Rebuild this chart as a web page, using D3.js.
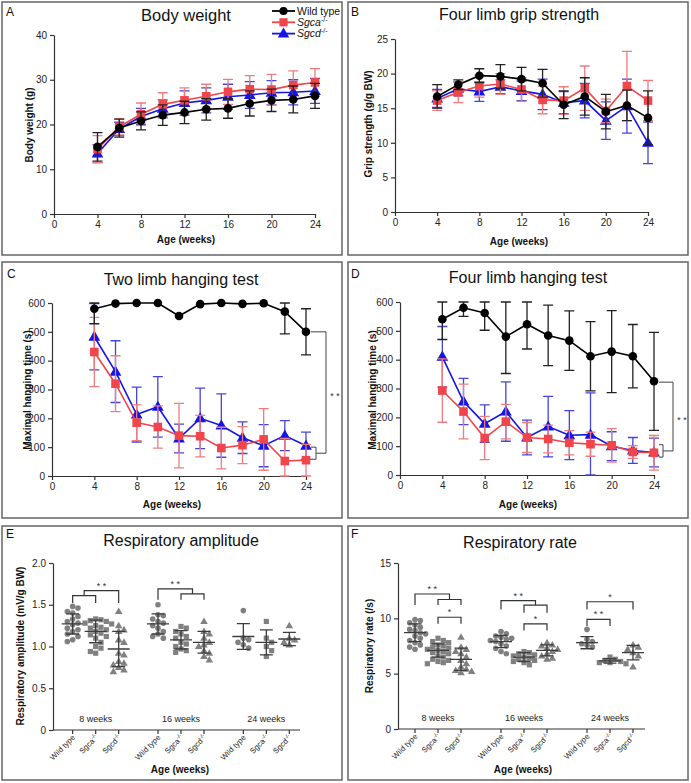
<!DOCTYPE html>
<html><head><meta charset="utf-8">
<script src="https://cdn.jsdelivr.net/npm/d3@7"></script>
<style>
body{margin:0;background:#fff}
svg{display:block}
text{font-family:"Liberation Sans",Arial,Helvetica,sans-serif}
</style>
</head><body>
<svg id="c" width="691" height="783"></svg>
<script>
// ---------- DATA ----------
const weeks = [4,6,8,10,12,14,16,18,20,22,24];
const weekTicks = [0,4,8,12,16,20,24];
const seriesNames = ["Wild type","Sgca","Sgcd"];

// A: Body weight (g)
const bwWT = [15.0,19.2,20.8,22.1,22.7,23.4,23.6,24.7,25.4,25.6,26.4];
const bwWTsd = [3.2,2.0,2.0,2.3,2.5,2.4,2.2,2.8,2.5,3.0,2.8];
const bwSgca = [14.5,19.5,22.3,24.5,25.4,26.3,27.3,27.9,27.8,28.8,29.4];
const bwSgcaSd = [3.0,1.8,2.5,2.6,2.8,2.7,2.8,3.0,3.4,3.2,3.1];
const bwSgcd = [13.5,19.0,21.8,23.5,24.8,25.4,26.2,26.6,27.1,27.2,27.5];
const bwSgcdSd = [2.0,1.5,1.8,2.0,2.7,2.8,2.8,3.0,2.7,2.8,2.8];
const bwTicks = [0,10,20,30,40];

// B: Grip strength (g/g BW)
const gripWT = [16.7,18.4,19.7,19.6,19.2,18.6,15.5,16.7,14.5,15.4,13.6];
const gripWTsd = [1.7,0.7,1.0,1.7,1.7,2.0,2.0,2.7,2.5,2.2,3.9];
const gripSgca = [16.1,17.3,18.2,18.5,17.7,16.2,16.1,17.9,14.6,18.2,16.1];
const gripSgcaSd = [1.4,1.5,1.6,1.5,1.7,2.0,2.0,3.2,1.7,5.0,2.9];
const gripSgcd = [16.4,17.8,17.4,18.1,17.5,17.0,15.8,16.1,13.2,15.3,10.0];
const gripSgcdSd = [1.3,1.0,1.4,1.0,1.4,2.2,1.6,2.5,2.7,3.9,3.0];
const gripTicks = [0,5,10,15,20,25];

// C: Two limb hanging (s)
const twoWT = [580,598,600,600,555,596,600,597,599,570,500];
const twoWTsd = [52,0,0,0,0,0,0,0,0,77,80];
const twoSgca = [430,320,185,170,140,138,97,107,127,52,55];
const twoSgcaSd = [120,97,62,73,112,72,72,64,107,78,55];
const twoSgcd = [483,362,213,240,130,200,175,133,105,140,105];
const twoSgcdSd = [115,107,95,105,50,105,110,55,73,52,47];

// D: Four limb hanging (s)
const fourWT = [540,580,562,480,523,484,466,412,428,412,325];
const fourWTsd = [70,30,60,128,86,105,103,120,142,110,170];
const fourSgca = [293,220,128,185,130,125,112,107,103,80,77];
const fourSgcaSd = [110,95,75,60,52,48,42,42,58,22,60];
const fourSgcd = [410,255,178,220,130,168,138,140,100,85,78];
const fourSgcdSd = [105,80,65,103,60,105,85,145,50,45,50];
const hangTicks = [0,100,200,300,400,500,600];

// E / F groups
const ageGroups = ["8 weeks","16 weeks","24 weeks"];
const genotypes = ["Wild type","Sgca","Sgcd"];

// E: Respiratory amplitude (mV/g BW)
const amp8WT = [1.48,1.46,1.42,1.40,1.36,1.33,1.30,1.28,1.26,1.22,1.20,1.18,1.15,1.12,1.08,1.06];
const amp8Sgca = [1.33,1.32,1.31,1.30,1.28,1.27,1.25,1.23,1.22,1.20,1.18,1.16,1.14,1.12,1.10,1.05,1.00,0.98,0.94,0.92];
const amp8Sgcd = [1.42,1.25,1.20,1.18,1.08,1.05,0.92,0.90,0.82,0.80,0.78,0.75,0.72,0.70];
const amp16WT = [1.50,1.38,1.37,1.33,1.30,1.28,1.25,1.22,1.18,1.15,1.12,1.10];
const amp16Sgca = [1.24,1.22,1.18,1.15,1.12,1.10,1.05,1.03,1.00,0.97,0.95,0.93];
const amp16Sgcd = [1.30,1.18,1.15,1.10,1.05,1.02,1.00,0.95,0.92,0.88,0.84];
const amp24WT = [1.43,1.10,1.08,1.05,1.02,0.98];
const amp24Sgca = [1.30,1.10,1.05,1.00,0.95,0.88];
const amp24Sgcd = [1.25,1.10,1.08,1.05,1.02];
const ampMean = [1.27,1.18,0.97,1.27,1.08,1.05,1.12,1.05,1.09];
const ampSd = [0.12,0.135,0.21,0.12,0.11,0.13,0.155,0.15,0.08];
const ampTicks = [0,0.5,1.0,1.5,2.0];

// F: Respiratory rate (/s)
const rate8WT = [9.9,9.8,9.6,9.4,9.2,9.0,8.9,8.7,8.6,8.4,8.2,8.0,7.8,7.6,7.4,7.2];
const rate8Sgca = [8.2,8.0,7.9,7.8,7.6,7.5,7.4,7.3,7.2,7.1,7.0,6.9,6.8,6.6,6.5,6.3,6.2,6.1,6.0,5.9];
const rate8Sgcd = [8.3,7.4,7.2,7.0,6.8,6.5,6.2,5.9,5.6,5.4,5.3,5.2,5.1];
const rate16WT = [8.8,8.6,8.4,8.3,8.2,8.1,8.0,7.9,7.7,7.5,7.3,7.0,6.8];
const rate16Sgca = [7.0,6.9,6.8,6.7,6.6,6.5,6.4,6.3,6.2,6.1,6.0,5.8];
const rate16Sgcd = [7.8,7.6,7.5,7.3,7.2,7.0,6.8,6.6,6.4,6.3];
const rate24WT = [9.0,8.1,7.9,7.7,7.6,7.4];
const rate24Sgca = [6.5,6.3,6.2,6.1,6.0,6.0,5.9];
const rate24Sgcd = [7.6,7.4,7.2,6.9,6.6,5.6];
const rateMean = [8.7,7.1,6.3,7.9,6.5,7.1,7.8,6.15,6.9];
const rateSd = [0.8,0.6,1.0,0.55,0.4,0.5,0.55,0.2,0.65];
const rateTicks = [0,5,10,15];

// ---------- DRAWING ----------
const svg = d3.select("#c");
const C = {wt:"#000000", sgca:"#f0454a", sgcd:"#1414e6", wtErr:"#222222", sgcaErr:"#f07c80", sgcdErr:"#4545dc", gray:"#808080", axis:"#333333"};

function box(x,y,w,h){
  svg.append("rect").attr("x",x).attr("y",y).attr("width",w).attr("height",h)
    .attr("fill","none").attr("stroke","#6e6e6e").attr("stroke-width",1.6);
}
function txt(x,y,s,size,opts={}){
  const t = svg.append("text").attr("x",x).attr("y",y).attr("font-size",size).attr("fill",opts.fill||"#111")
    .attr("text-anchor",opts.anchor||"start").text(s);
  if(opts.bold) t.attr("font-weight","bold");
  if(opts.rot) t.attr("transform",`rotate(${opts.rot},${x},${y})`);
  return t;
}
function styleAxis(g){
  g.select(".domain").attr("stroke",C.axis).attr("stroke-width",1.2);
  g.selectAll(".tick line").attr("stroke",C.axis).attr("stroke-width",1.2);
  g.selectAll(".tick text").attr("font-size",10).attr("fill","#222").attr("font-family","Liberation Sans, Arial, sans-serif");
}
function marker(g, type, x, y, color, size){
  if(type==="circle") g.append("circle").attr("cx",x).attr("cy",y).attr("r",size).attr("fill",color);
  else if(type==="square") g.append("rect").attr("x",x-size).attr("y",y-size).attr("width",2*size).attr("height",2*size).attr("fill",color);
  else g.append("path").attr("d",d3.symbol(d3.symbolTriangle,size*size*3.4)()).attr("transform",`translate(${x},${y+size*0.15})`).attr("fill",color);
}

function linePanel(cfg){
  const x = d3.scaleLinear([0,24],[cfg.x0,cfg.x1]);
  const y = d3.scaleLinear([0,cfg.yMax],[cfg.y0,cfg.y1]);
  const ga = svg.append("g").attr("transform",`translate(0,${cfg.y0})`)
    .call(d3.axisBottom(x).tickValues(weekTicks).tickSize(4).tickSizeOuter(0));
  styleAxis(ga);
  const gy = svg.append("g").attr("transform",`translate(${cfg.x0},0)`)
    .call(d3.axisLeft(y).tickValues(cfg.ticks).tickSize(4).tickSizeOuter(0));
  styleAxis(gy);
  const g = svg.append("g");
  cfg.series.forEach(s=>{
    const cw = 5;
    s.vals.forEach((v,i)=>{
      const e = s.sd[i]; if(e<=0) return;
      const hi = Math.min(v+e, cfg.yMax), lo = Math.max(v-e,0);
      const xx = x(weeks[i]);
      g.append("path").attr("d",`M${xx},${y(lo)}V${y(hi)}M${xx-cw},${y(hi)}H${xx+cw}M${xx-cw},${y(lo)}H${xx+cw}`)
        .attr("stroke",s.err).attr("stroke-width",1.3).attr("fill","none");
    });
    g.append("path").datum(s.vals)
      .attr("d",d3.line().x((d,i)=>x(weeks[i])).y(d=>y(d)))
      .attr("fill","none").attr("stroke",s.color).attr("stroke-width",1.6);
    s.vals.forEach((v,i)=>marker(g,s.type,x(weeks[i]),y(v),s.color,s.type==="triangle"?4.2:4.3));
  });
  return {x,y};
}

function series3(wt,wtsd,a,asd,d,dsd){
  return [
    {vals:d, sd:dsd, color:C.sgcd, err:C.sgcdErr, type:"triangle"},
    {vals:a, sd:asd, color:C.sgca, err:C.sgcaErr, type:"square"},
    {vals:wt, sd:wtsd, color:C.wt, err:C.wtErr, type:"circle"}
  ];
}

// Panel boxes
box(2,2,340,253); box(348,2,340,253);
box(2,262,340,256); box(348,262,340,256);
box(2,526,340,254); box(348,526,340,254);

// ---- A ----
txt(6,16,"A",12);
txt(186,21,"Body weight",16.5,{anchor:"middle"});
linePanel({x0:54,x1:315,y0:214,y1:35,yMax:40,ticks:bwTicks,series:series3(bwWT,bwWTsd,bwSgca,bwSgcaSd,bwSgcd,bwSgcdSd)});
txt(33,125,"Body weight  (g)",10,{bold:true,anchor:"middle",rot:-90});
txt(186,243,"Age (weeks)",10,{bold:true,anchor:"middle"});
// legend
[{n:"Wild type",c:C.wt,t:"circle"},{n:"Sgca",c:C.sgca,t:"square"},{n:"Sgcd",c:C.sgcd,t:"triangle"}].forEach((l,i)=>{
  const yy = 11 + i*11.3;
  svg.append("line").attr("x1",272).attr("x2",295).attr("y1",yy).attr("y2",yy).attr("stroke",l.c).attr("stroke-width",1.8);
  marker(svg,l.t,283.5,yy,l.c,4.1);
  const t = txt(297,yy+3.8,"",10.5,{fill:"#111"});
  if(i===0) t.text(l.n);
  else { t.append("tspan").attr("font-style","italic").text(l.n);
         t.append("tspan").attr("font-size",7).attr("dy",-4).text("-/-"); }
});

// ---- B ----
txt(351,16,"B",12);
txt(519,20,"Four limb grip strength",16,{anchor:"middle"});
linePanel({x0:395,x1:648,y0:212,y1:39,yMax:25,ticks:gripTicks,series:series3(gripWT,gripWTsd,gripSgca,gripSgcaSd,gripSgcd,gripSgcdSd)});
txt(372,124,"Grip strength  (g/g BW)",10,{bold:true,anchor:"middle",rot:-90});
txt(519,245,"Age (weeks)",10,{bold:true,anchor:"middle"});

// hanging-test significance bracket
function hangBracket(s, wtTop, lowA, lowB, xOff){
  const x24 = s.x(24);
  const xs = x24+xOff, xb = x24+xOff+7;
  const mid = (s.y(lowA)+s.y(lowB))/2;
  const p = `M${x24+5},${s.y(wtTop)}H${xb+3}V${mid}H${xs}M${x24+5},${s.y(lowA)}H${xs}V${s.y(lowB)}H${x24+5}`;
  svg.append("path").attr("d",p).attr("fill","none").attr("stroke","#444").attr("stroke-width",1);
  txt(xb+12,(s.y(wtTop)+mid)/2+6,"* *",9,{anchor:"middle",fill:"#333"});
}

// ---- C ----
txt(7,278,"C",12);
txt(181,285,"Two limb hanging test",16,{anchor:"middle"});
const sC = linePanel({x0:52,x1:306,y0:476,y1:303,yMax:600,ticks:hangTicks,series:series3(twoWT,twoWTsd,twoSgca,twoSgcaSd,twoSgcd,twoSgcdSd)});
hangBracket(sC, 500, 100, 58, 10);
txt(31,390,"Maximal hanging time (s)",10,{bold:true,anchor:"middle",rot:-90});
txt(172,508,"Age (weeks)",10,{bold:true,anchor:"middle"});

// ---- D ----
txt(351,278,"D",12);
txt(528,283,"Four limb hanging test",16,{anchor:"middle"});
const sD = linePanel({x0:400,x1:654,y0:475,y1:302,yMax:600,ticks:hangTicks,series:series3(fourWT,fourWTsd,fourSgca,fourSgcaSd,fourSgcd,fourSgcdSd)});
hangBracket(sD, 322, 105, 62, 9);
txt(376,390,"Maximal hanging time (s)",10,{bold:true,anchor:"middle",rot:-90});
txt(528,508,"Age (weeks)",10,{bold:true,anchor:"middle"});

// ---- scatter panels ----
function swarm(vals, y, cx, r){
  const pts = vals.map(v=>({v,y:y(v)})).sort((a,b)=>a.y-b.y);
  const placed = [];
  const step = r*1.9;
  pts.forEach(p=>{
    for(let k=0;k<20;k++){
      const off = (k===0?0:(k%2===1?1:-1)*Math.ceil(k/2)*step);
      const xx = cx+off;
      const ok = placed.every(q=>(q.x-xx)**2+(q.y-p.y)**2 >= (2*r*0.95)**2);
      if(ok){ p.x = xx; placed.push(p); break; }
    }
  });
  return placed;
}

function scatterPanel(cfg){
  const y = d3.scaleLinear([0,cfg.yMax],[cfg.y0,cfg.y1]);
  const gx = d3.scaleBand(ageGroups,[cfg.bx0,cfg.bx1]);
  const catX = (gi,ci)=> gx(ageGroups[gi]) + gx.bandwidth()/2 + (ci-1)*23;
  const gy = svg.append("g").attr("transform",`translate(${cfg.x0},0)`)
    .call(d3.axisLeft(y).tickValues(cfg.ticks).tickFormat(cfg.fmt).tickSize(4).tickSizeOuter(0));
  styleAxis(gy);
  const xa = svg.append("g");
  xa.append("line").attr("x1",cfg.x0).attr("x2",cfg.xEnd).attr("y1",cfg.y0).attr("y2",cfg.y0).attr("stroke",C.axis).attr("stroke-width",1.2);
  const types = ["circle","square","triangle"];
  cfg.data.forEach((vals,k)=>{
    const gi = Math.floor(k/3), ci = k%3;
    const cx = catX(gi,ci);
    xa.append("line").attr("x1",cx).attr("x2",cx).attr("y1",cfg.y0).attr("y2",cfg.y0+4).attr("stroke",C.axis).attr("stroke-width",1.2);
    const pts = swarm(vals,y,cx,2.8);
    pts.forEach(p=>marker(svg,types[ci],p.x,p.y,C.gray,types[ci]==="triangle"?2.7:(types[ci]==="square"?2.6:2.8)));
    const m = cfg.mean[k], s = cfg.sd[k];
    svg.append("path").attr("d",`M${cx-11},${y(m)}H${cx+11}M${cx},${y(m-s)}V${y(m+s)}M${cx-6.5},${y(m-s)}H${cx+6.5}M${cx-6.5},${y(m+s)}H${cx+6.5}`)
      .attr("stroke","#3c3c3c").attr("stroke-width",1.3).attr("fill","none");
    const lx = cx+3, ly = cfg.y0+8;
    const t = svg.append("text").attr("x",lx).attr("y",ly).attr("font-size",7.8).attr("fill","#222")
      .attr("text-anchor","end").attr("transform",`rotate(-45,${lx},${ly})`);
    if(ci===0) t.text(genotypes[ci]);
    else { t.append("tspan").text(genotypes[ci]); t.append("tspan").attr("font-size",5.5).attr("dy",-3).text("-/-"); }
  });
  ageGroups.forEach((a,gi)=>txt(catX(gi,1),cfg.y0-8,a,9,{anchor:"middle",fill:"#222"}));
  const bx = (b)=> (catX(b[0],b[1]) + (b.length>2?catX(b[0],b[2]):catX(b[0],b[1])))/2;
  cfg.brackets.forEach(b=>{
    const xa_ = bx(b.a), xb_ = bx(b.b);
    svg.append("path").attr("d",`M${xa_},${y(b.da)}V${y(b.yl)}H${xb_}V${y(b.db)}`)
      .attr("fill","none").attr("stroke","#333").attr("stroke-width",1.2);
    if(b.star) txt((xa_+xb_)/2, y(b.yl)-2, b.star, 9, {anchor:"middle",fill:"#333"});
  });
  return {y,catX};
}

// ---- E ----
txt(6,538,"E",12);
txt(181,546,"Respiratory amplitude",16,{anchor:"middle"});
scatterPanel({x0:53,xEnd:300,bx0:53,bx1:309,y0:730,y1:563,yMax:2,ticks:ampTicks,fmt:d=>d===0?"0":d3.format(".1f")(d),
  data:[amp8WT,amp8Sgca,amp8Sgcd,amp16WT,amp16Sgca,amp16Sgcd,amp24WT,amp24Sgca,amp24Sgcd],
  mean:ampMean, sd:ampSd,
  brackets:[
    {a:[0,0],b:[0,1],yl:1.61,da:1.52,db:1.52},
    {a:[0,0,1],b:[0,2],yl:1.67,da:1.61,db:1.52,star:"* *"},
    {a:[1,1],b:[1,2],yl:1.63,da:1.56,db:1.56},
    {a:[1,0],b:[1,1,2],yl:1.69,da:1.56,db:1.63,star:"* *"}
  ]});
txt(24,646,"Respiratory amplitude (mV/g BW)",10,{bold:true,anchor:"middle",rot:-90});
txt(180,773,"Age (weeks)",10,{bold:true,anchor:"middle"});

// ---- F ----
txt(351,538,"F",12);
txt(520,548,"Respiratory rate",16,{anchor:"middle"});
scatterPanel({x0:398,xEnd:645,bx0:395,bx1:653,y0:729,y1:563,yMax:15,ticks:rateTicks,fmt:d3.format("d"),
  data:[rate8WT,rate8Sgca,rate8Sgcd,rate16WT,rate16Sgca,rate16Sgcd,rate24WT,rate24Sgca,rate24Sgcd],
  mean:rateMean, sd:rateSd,
  brackets:[
    {a:[0,1],b:[0,2],yl:11.7,da:11.2,db:11.2},
    {a:[0,0],b:[0,1,2],yl:12.2,da:11.2,db:11.7,star:"* *"},
    {a:[0,1],b:[0,2],yl:10.1,da:9.5,db:9.5,star:"*"},
    {a:[1,1],b:[1,2],yl:11.2,da:10.5,db:10.5},
    {a:[1,0],b:[1,1,2],yl:11.6,da:10.8,db:11.2,star:"* *"},
    {a:[1,1],b:[1,2],yl:9.5,da:8.9,db:8.9,star:"*"},
    {a:[2,0],b:[2,2],yl:11.5,da:10.8,db:10.8,star:"*"},
    {a:[2,0],b:[2,1],yl:9.9,da:9.3,db:9.3,star:"* *"}
  ]});
txt(373,646,"Respiratory rate (/s)",10,{bold:true,anchor:"middle",rot:-90});
txt(523,773,"Age (weeks)",10,{bold:true,anchor:"middle"});
</script>
</body></html>
